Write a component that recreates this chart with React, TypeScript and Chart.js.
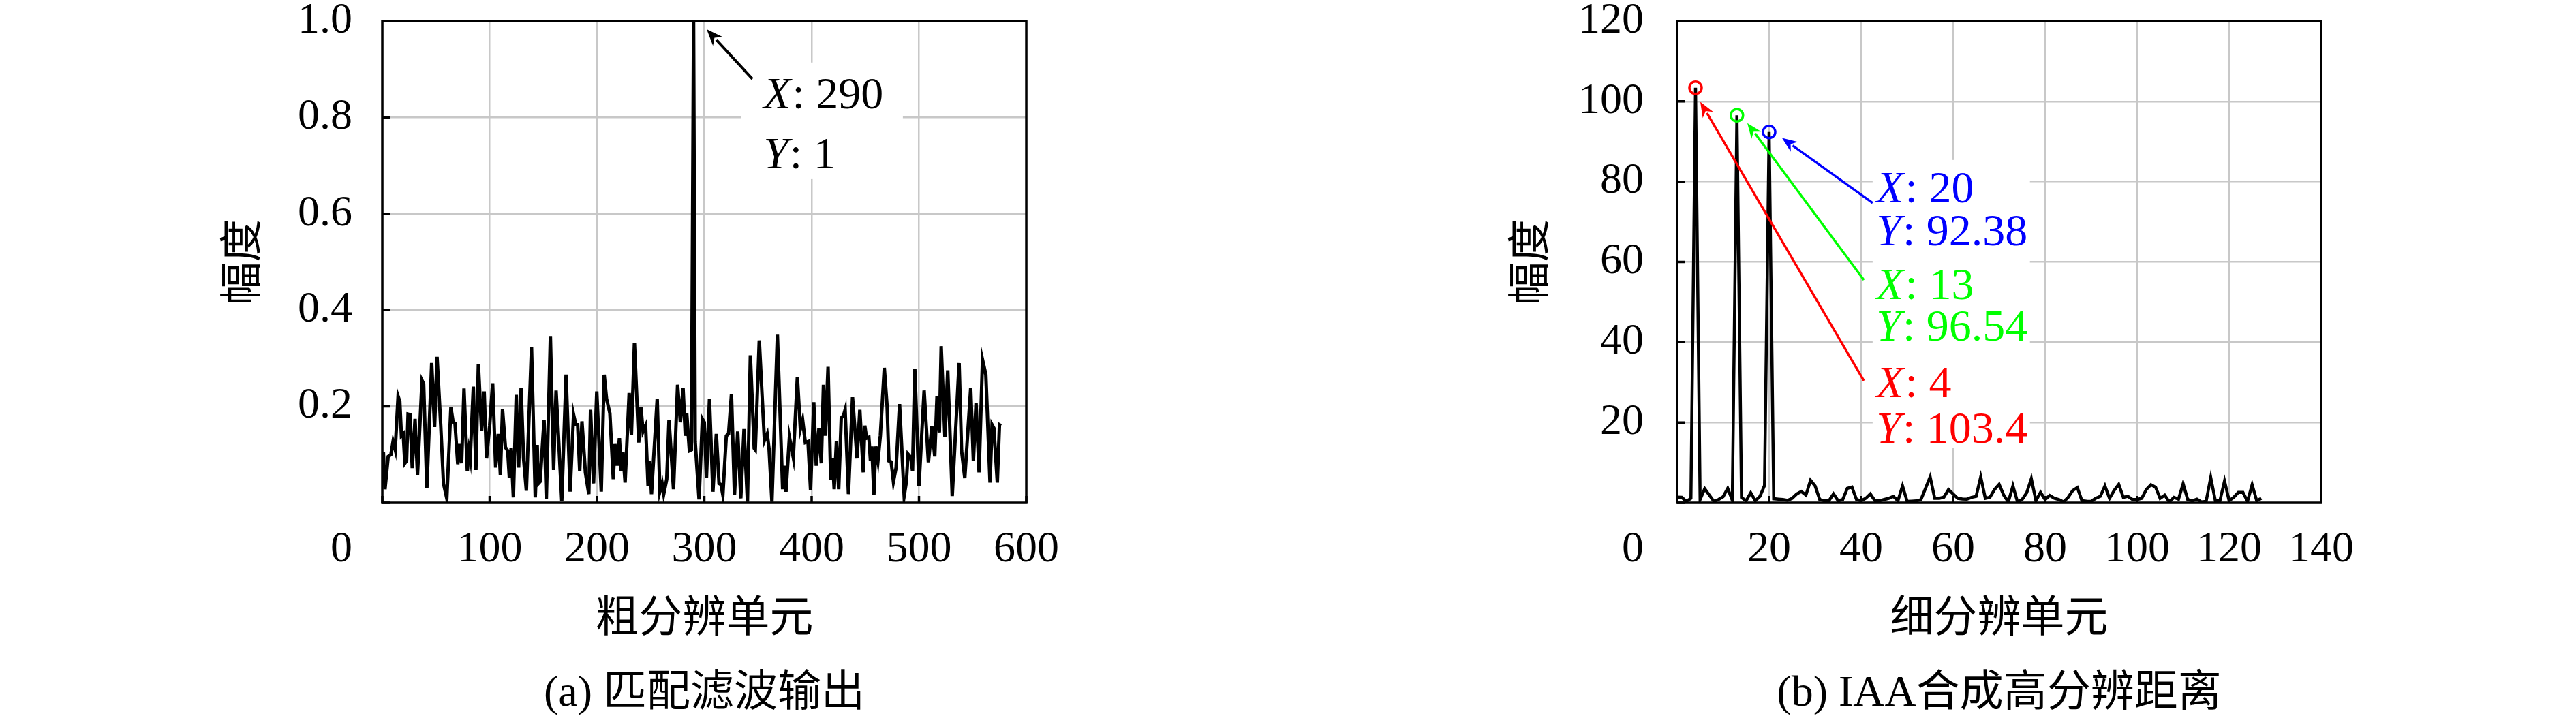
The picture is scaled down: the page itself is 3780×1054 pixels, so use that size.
import React, { useEffect, useRef } from 'react';
import { Chart, registerables } from 'chart.js';

Chart.register(...registerables);

// ---------- data: (a) matched filter output ----------
const coarseCells = [1, 2.5, 5.5, 8, 10, 12, 14.7, 16.3, 17.8, 19.5, 21, 22.6, 24, 25.8, 27.9, 30.5, 32.8, 37, 38.5, 41.5, 46, 48.7, 51, 54.4, 57, 60.1, 63.9, 66, 67.7, 70.3, 72, 73.9, 76.1, 79.2, 80.8, 81.9, 84.8, 87.2, 89.5, 92.5, 94.9, 97.1, 100, 102.8, 105.6, 108, 110, 112, 114.7, 116.8, 118.4, 120, 122.1, 124.8, 127, 129.3, 131.6, 134.2, 139, 142.5, 144.3,
  145.4, 147, 150.7, 152.8, 156.6, 159.6, 161.9, 167.2, 171.2, 175, 178.2, 180.3, 182, 183.9, 186, 189.2, 192.4, 194, 196.8, 199.8, 204, 206.7, 208.9, 212, 215.2, 216.7, 218.8, 220.9, 222.6, 224.1, 226.2, 230, 232.1, 234.9, 238.9, 241, 242.9, 245.3, 247.6, 249.1, 250.8, 256.1, 258.6, 260.7, 262.2, 265, 267.1, 271.3, 275.1, 277.7, 280.2, 282.3, 283.6, 286.1, 288, 290, 291.5,
  295.1, 298.2, 300, 302, 304.8, 308, 311.2, 313.7, 315.5, 317.3, 320.5, 322.6, 325.3, 328.1, 331.1, 334, 337, 340.2, 342.9, 346.5, 347.5, 351.2, 356, 358.6, 360.3, 363, 368.1, 373, 374.4, 376.1, 379.3, 382.9, 386.7, 389.5, 391.6, 394.1, 396.6, 399, 402, 404.3, 406.8, 409, 411, 412.7, 415.3, 417.8, 419.5, 421, 423.1, 425.2, 427.6, 429.7, 431.2, 434.3,
  438.1, 442.3, 444.9, 448.1, 449.5, 451.2, 453.3, 454.8, 456.1, 458, 459.7, 461.8, 464, 467.7, 470.3, 472, 474.1, 476.2, 478.7, 481.9, 486.2, 488.3, 489.8, 492.5, 494, 496.1, 500, 504.8, 508.8, 512, 514.7, 516.8, 519, 520.7, 524.2, 526.8, 531, 537.4, 539.7, 542.7, 548.2, 550.7, 553.2, 556, 559.2, 562.3, 566.2, 568.1, 569.8, 573, 575, 576.5];
const coarseAmp = [0.106, 0.028, 0.096, 0.1, 0.127, 0.11, 0.221, 0.21, 0.139, 0.143, 0.082, 0.087, 0.184, 0.183, 0.072, 0.174, 0.058, 0.254, 0.247, 0.03, 0.29, 0.157, 0.303, 0.162, 0.04, 0.009, 0.198, 0.167, 0.165, 0.08, 0.122, 0.082, 0.237, 0.066, 0.107, 0.092, 0.241, 0.068, 0.288, 0.15, 0.231, 0.092, 0.16, 0.248, 0.073, 0.143, 0.058, 0.194, 0.115, 0.108, 0.051, 0.113, 0.011, 0.224, 0.073, 0.238, 0.092, 0.025, 0.323, 0.011, 0.12,
  0.04, 0.044, 0.172, 0.007, 0.346, 0.068, 0.233, 0.004, 0.266, 0.023, 0.183, 0.162, 0.162, 0.066, 0.169, 0.063, 0.018, 0.193, 0.04, 0.231, 0.023, 0.266, 0.216, 0.186, 0.049, 0.122, 0.077, 0.134, 0.066, 0.106, 0.042, 0.228, 0.141, 0.332, 0.125, 0.198, 0.148, 0.16, 0.035, 0.087, 0.018, 0.216, 0.023, 0.04, 0.018, 0.049, 0.172, 0.028, 0.245, 0.167, 0.238, 0.139, 0.186, 0.108, 0.11, 1.0, 0.127,
  0.007, 0.174, 0.167, 0.051, 0.215, 0.023, 0.143, 0.04, 0.038, 0.016, 0.139, 0.143, 0.226, 0.016, 0.148, 0.009, 0.153, 0.002, 0.306, 0.113, 0.11, 0.337, 0.129, 0.143, 0.113, 0.002, 0.349, 0.028, 0.077, 0.023, 0.136, 0.094, 0.261, 0.153, 0.172, 0.125, 0.127, 0.026, 0.209, 0.077, 0.155, 0.082, 0.245, 0.139, 0.282, 0.047, 0.092, 0.028, 0.127, 0.028, 0.176, 0.181, 0.193, 0.018,
  0.219, 0.092, 0.193, 0.063, 0.16, 0.134, 0.136, 0.087, 0.117, 0.016, 0.117, 0.087, 0.139, 0.28, 0.2, 0.087, 0.085, 0.044, 0.073, 0.205, 0.014, 0.044, 0.101, 0.094, 0.066, 0.278, 0.035, 0.233, 0.084, 0.158, 0.096, 0.221, 0.146, 0.325, 0.136, 0.275, 0.014, 0.29, 0.108, 0.051, 0.238, 0.087, 0.207, 0.063, 0.297, 0.266, 0.042, 0.162, 0.155, 0.042, 0.162, 0.16];
const coarseXTicks = [0, 100, 200, 300, 400, 500, 600];
const coarseYTicks = [0, 0.2, 0.4, 0.6, 0.8, 1.0];

// ---------- data: (b) IAA high resolution range, cells 0..127 ----------
const fineAmp = [1.4, 1.35, 0.34, 1.1, 103.4, 0.8, 3.5, 1.9, 0.34, 0.8, 1.5, 3.6, 0.6, 96.54, 1.3, 0.5, 2.5, 0.5, 1.6, 4.3,
  92.38, 1.0, 0.9, 0.8, 0.6, 1.1, 2.2, 2.8, 1.9, 5.6, 4.2, 0.8, 0.5, 0.5, 2.2, 0.5, 0.8, 3.6, 3.9, 0.8,
  0.5, 1.1, 2.2, 0.5, 0.5, 0.8, 1.1, 1.6, 0.5, 4.2, 0.35, 0.4, 0.45, 0.8, 3.6, 6.45, 1.1, 1.1, 1.4, 3.3,
  2.2, 1.1, 0.95, 0.9, 1.35, 1.6, 6.45, 1.1, 1.35, 3.3, 4.6, 1.9, 0.2, 4.2, 0.2, 0.8, 2.5, 6.0, 0.5, 2.6,
  0.8, 1.8, 1.1, 0.8, 0.2, 1.35, 3.05, 3.8, 0.5, 0.4, 0.35, 1.1, 1.6, 4.2, 1.1, 3.05, 4.6, 1.35, 1.6, 0.8,
  0.8, 1.1, 3.3, 4.5, 3.9, 1.1, 1.9, 0.2, 1.35, 0.9, 4.75, 0.8, 0.5, 0.9, 0.2, 0.35, 6.3, 0.5, 0.5, 5.4,
  0.5, 1.35, 2.6, 2.6, 0.35, 4.5, 0.5, 1.1];
const fineXTicks = [0, 20, 40, 60, 80, 100, 120, 140];
const fineYTicks = [0, 20, 40, 60, 80, 100, 120];
const peakCells = [4, 13, 20];
const peakAmp = [103.4, 96.54, 92.38];
const peakColors = ['#ff0000', '#00ff00', '#0000ff'];

// ---------- texts ----------
const originLabel = '0';
const captionA = '(a) 匹配滤波输出';
const captionB = '(b) IAA合成高分辨距离';
const yTitle = '幅度';
const xTitleA = '粗分辨单元';
const xTitleB = '细分辨单元';

// annotation anchors in data coordinates
const noteA = { x: 355, ys: [0.819, 0.694], lines: [['X', ': 290'], ['Y', ': 1']], color: '#000000',
  arrow: [344.8, 0.88, 302.2, 0.983], box: [334, 485, 0.914, 0.672] };
const notesB = [
  { x: 43.3, ys: [74.9, 64.2], lines: [['X', ': 20'], ['Y', ': 92.38']], color: '#0000ff', arrow: [42.5, 74.7, 22.8, 90.9] },
  { x: 43.3, ys: [50.8, 40.4], lines: [['X', ': 13'], ['Y', ': 96.54']], color: '#00ff00', arrow: [40.6, 55.5, 15.26, 94.6] },
  { x: 43.3, ys: [26.3, 14.9], lines: [['X', ': 4'], ['Y', ': 103.4']], color: '#ff0000', arrow: [40.6, 30.4, 5.04, 99.9] },
];
const boxB = [42.5, 76.7, 85.4, 13.6];

const SERIF = "'Liberation Serif', 'Noto Sans CJK SC', serif";
const TICK_FONT = 64;
const NOTE_FONT = 66;
const CHART_W = 1890;
const CHART_H = 1054;

function drawArrow(ctx: CanvasRenderingContext2D, x1: number, y1: number, x2: number, y2: number, color: string, lw: number, head: number) {
  const ang = Math.atan2(y2 - y1, x2 - x1);
  const bx = x2 - head * 0.8 * Math.cos(ang);
  const by = y2 - head * 0.8 * Math.sin(ang);
  ctx.save();
  ctx.strokeStyle = color;
  ctx.fillStyle = color;
  ctx.lineWidth = lw;
  ctx.beginPath();
  ctx.moveTo(x1, y1);
  ctx.lineTo(bx, by);
  ctx.stroke();
  ctx.beginPath();
  ctx.moveTo(x2, y2);
  ctx.lineTo(x2 - head * Math.cos(ang - 0.38), y2 - head * Math.sin(ang - 0.38));
  ctx.lineTo(x2 - head * 0.65 * Math.cos(ang), y2 - head * 0.65 * Math.sin(ang));
  ctx.lineTo(x2 - head * Math.cos(ang + 0.38), y2 - head * Math.sin(ang + 0.38));
  ctx.closePath();
  ctx.fill();
  ctx.restore();
}

function drawNoteLines(ctx: CanvasRenderingContext2D, x: number, ys: number[], lines: string[][], color: string) {
  ctx.save();
  ctx.fillStyle = color;
  ctx.textBaseline = 'alphabetic';
  ctx.textAlign = 'left';
  lines.forEach((ln, i) => {
    ctx.font = `italic ${NOTE_FONT}px ${SERIF}`;
    ctx.fillText(ln[0], x, ys[i]);
    const w = ctx.measureText(ln[0]).width;
    ctx.font = `${NOTE_FONT}px ${SERIF}`;
    ctx.fillText(ln[1], x + w + 2, ys[i]);
  });
  ctx.restore();
}

function makeDecorPlugin(opts: { yPad: number; caption: string; which: 'a' | 'b' }) {
  return {
    id: 'decor_' + opts.which,
    beforeDatasetsDraw(chart: any) {
      const { ctx, scales } = chart;
      const sx = scales.x, sy = scales.y;
      const box = opts.which === 'a' ? noteA.box : boxB;
      const [x0, x1, y0, y1] = box;
      ctx.save();
      ctx.fillStyle = '#ffffff';
      ctx.fillRect(sx.getPixelForValue(x0), sy.getPixelForValue(y0), sx.getPixelForValue(x1) - sx.getPixelForValue(x0), sy.getPixelForValue(y1) - sy.getPixelForValue(y0));
      ctx.restore();
    },
    afterDatasetsDraw(chart: any) {
      const { ctx, chartArea: ca, scales } = chart;
      ctx.save();
      ctx.strokeStyle = '#000000';
      ctx.lineWidth = 3.5;
      // inward tick marks
      ctx.beginPath();
      scales.x.ticks.forEach((t: any) => {
        const px = scales.x.getPixelForValue(t.value);
        ctx.moveTo(px, ca.bottom);
        ctx.lineTo(px, ca.bottom - 10);
      });
      scales.y.ticks.forEach((t: any) => {
        const py = scales.y.getPixelForValue(t.value);
        ctx.moveTo(ca.left, py);
        ctx.lineTo(ca.left + 11, py);
      });
      ctx.stroke();
      // frame
      ctx.strokeRect(ca.left, ca.top, ca.right - ca.left, ca.bottom - ca.top);
      ctx.restore();
    },
    afterDraw(chart: any) {
      const { ctx, chartArea: ca, scales } = chart;
      const sx = scales.x, sy = scales.y;
      ctx.save();
      ctx.fillStyle = '#000000';
      ctx.font = `${TICK_FONT}px ${SERIF}`;
      ctx.textAlign = 'right';
      ctx.textBaseline = 'middle';
      ctx.fillText(originLabel, ca.left - opts.yPad, ca.bottom + 31 + TICK_FONT * 0.6);
      ctx.textAlign = 'center';
      ctx.fillText(opts.caption, (ca.left + ca.right) / 2, 1019);
      ctx.restore();
      if (opts.which === 'a') {
        const [ax1, ay1, ax2, ay2] = noteA.arrow;
        drawArrow(ctx, sx.getPixelForValue(ax1), sy.getPixelForValue(ay1), sx.getPixelForValue(ax2), sy.getPixelForValue(ay2), noteA.color, 4, 26);
        drawNoteLines(ctx, sx.getPixelForValue(noteA.x), noteA.ys.map((v) => sy.getPixelForValue(v)), noteA.lines, noteA.color);
      } else {
        notesB.forEach((n) => {
          const [ax1, ay1, ax2, ay2] = n.arrow;
          drawArrow(ctx, sx.getPixelForValue(ax1), sy.getPixelForValue(ay1), sx.getPixelForValue(ax2), sy.getPixelForValue(ay2), n.color, 3.5, 24);
          drawNoteLines(ctx, sx.getPixelForValue(n.x), n.ys.map((v) => sy.getPixelForValue(v)), n.lines, n.color);
        });
      }
    },
  };
}

function fixSize(kind: 'x' | 'y', size: number) {
  return (s: any) => {
    if (kind === 'x') s.height = size; else s.width = size;
    s.paddingLeft = 0; s.paddingRight = 0; s.paddingTop = 0; s.paddingBottom = 0;
  };
}

function buildOptions(p: {
  xMax: number; yMax: number; xTicks: number[]; yTicks: number[]; yWidth: number; rightPad: number; yPad: number; xTitle: string; yFmt: (v: number) => string;
}) {
  return {
    responsive: false,
    animation: false,
    devicePixelRatio: 1,
    layout: { padding: { left: 0, top: 31, right: p.rightPad, bottom: 0 } },
    plugins: { legend: { display: false }, tooltip: { enabled: false }, title: { display: false } },
    elements: { line: { tension: 0 } },
    scales: {
      x: {
        type: 'linear', min: 0, max: p.xMax,
        afterBuildTicks: (s: any) => { s.ticks = p.xTicks.map((v) => ({ value: v })); },
        afterFit: fixSize('x', CHART_H - 738),
        grid: { color: '#c8c8c8', lineWidth: 2.5, drawTicks: false },
        border: { display: false },
        ticks: {
          autoSkip: false, maxRotation: 0, minRotation: 0, padding: 31, color: '#000000',
          font: { family: SERIF, size: TICK_FONT },
          callback: (v: number) => (v === 0 ? '' : String(v)),
        },
        title: { display: true, text: p.xTitle, color: '#000000', font: { family: SERIF, size: 64 }, padding: { top: 0, bottom: 105 } },
      },
      y: {
        type: 'linear', min: 0, max: p.yMax,
        afterBuildTicks: (s: any) => { s.ticks = p.yTicks.map((v) => ({ value: v })); },
        afterFit: fixSize('y', p.yWidth),
        grid: { color: '#c8c8c8', lineWidth: 2.5, drawTicks: false },
        border: { display: false },
        ticks: {
          autoSkip: false, padding: p.yPad, color: '#000000',
          font: { family: SERIF, size: TICK_FONT },
          callback: (v: number) => (v === 0 ? '' : p.yFmt(v)),
        },
        title: { display: true, text: yTitle, color: '#000000', font: { family: SERIF, size: 63 }, padding: { top: 322, bottom: 0 } },
      },
    },
  };
}

export default function App() {
  const refA = useRef<HTMLCanvasElement | null>(null);
  const refB = useRef<HTMLCanvasElement | null>(null);

  useEffect(() => {
    const chartA = new Chart(refA.current as HTMLCanvasElement, {
      type: 'line',
      data: {
        datasets: [{
          data: coarseCells.map((x, i) => ({ x, y: coarseAmp[i] })),
          borderColor: '#000000', borderWidth: 5, pointRadius: 0, fill: false,
        }],
      },
      options: buildOptions({ xMax: 600, yMax: 1, xTicks: coarseXTicks, yTicks: coarseYTicks, yWidth: 561, rightPad: CHART_W - 1506, yPad: 44, xTitle: xTitleA, yFmt: (v) => v.toFixed(1) }) as any,
      plugins: [makeDecorPlugin({ yPad: 44, caption: captionA, which: 'a' })],
    } as any);

    const chartB = new Chart(refB.current as HTMLCanvasElement, {
      type: 'line',
      data: {
        datasets: [
          ...peakCells.map((x, i) => ({
            data: [{ x, y: peakAmp[i] }], showLine: false, order: 0,
            pointRadius: 9, pointBorderWidth: 3.5, pointStyle: 'circle',
            pointBorderColor: peakColors[i], pointBackgroundColor: 'rgba(0,0,0,0)', borderColor: peakColors[i],
          })),
          {
            data: fineAmp.map((y, i) => ({ x: i, y })), order: 1,
            borderColor: '#000000', borderWidth: 4.5, pointRadius: 0, fill: false,
          },
        ],
      },
      options: buildOptions({ xMax: 140, yMax: 120, xTicks: fineXTicks, yTicks: fineYTicks, yWidth: 571, rightPad: CHART_W - 1516, yPad: 49, xTitle: xTitleB, yFmt: (v) => String(v) }) as any,
      plugins: [makeDecorPlugin({ yPad: 49, caption: captionB, which: 'b' })],
    } as any);

    return () => { chartA.destroy(); chartB.destroy(); };
  }, []);

  return (
    <div style={{ position: 'absolute', left: 0, top: 0, width: 3780, height: 1054, background: '#ffffff', overflow: 'hidden' }}>
      <canvas ref={refA} width={CHART_W} height={CHART_H} style={{ position: 'absolute', left: 0, top: 0 }} />
      <canvas ref={refB} width={CHART_W} height={CHART_H} style={{ position: 'absolute', left: CHART_W, top: 0 }} />
    </div>
  );
}
